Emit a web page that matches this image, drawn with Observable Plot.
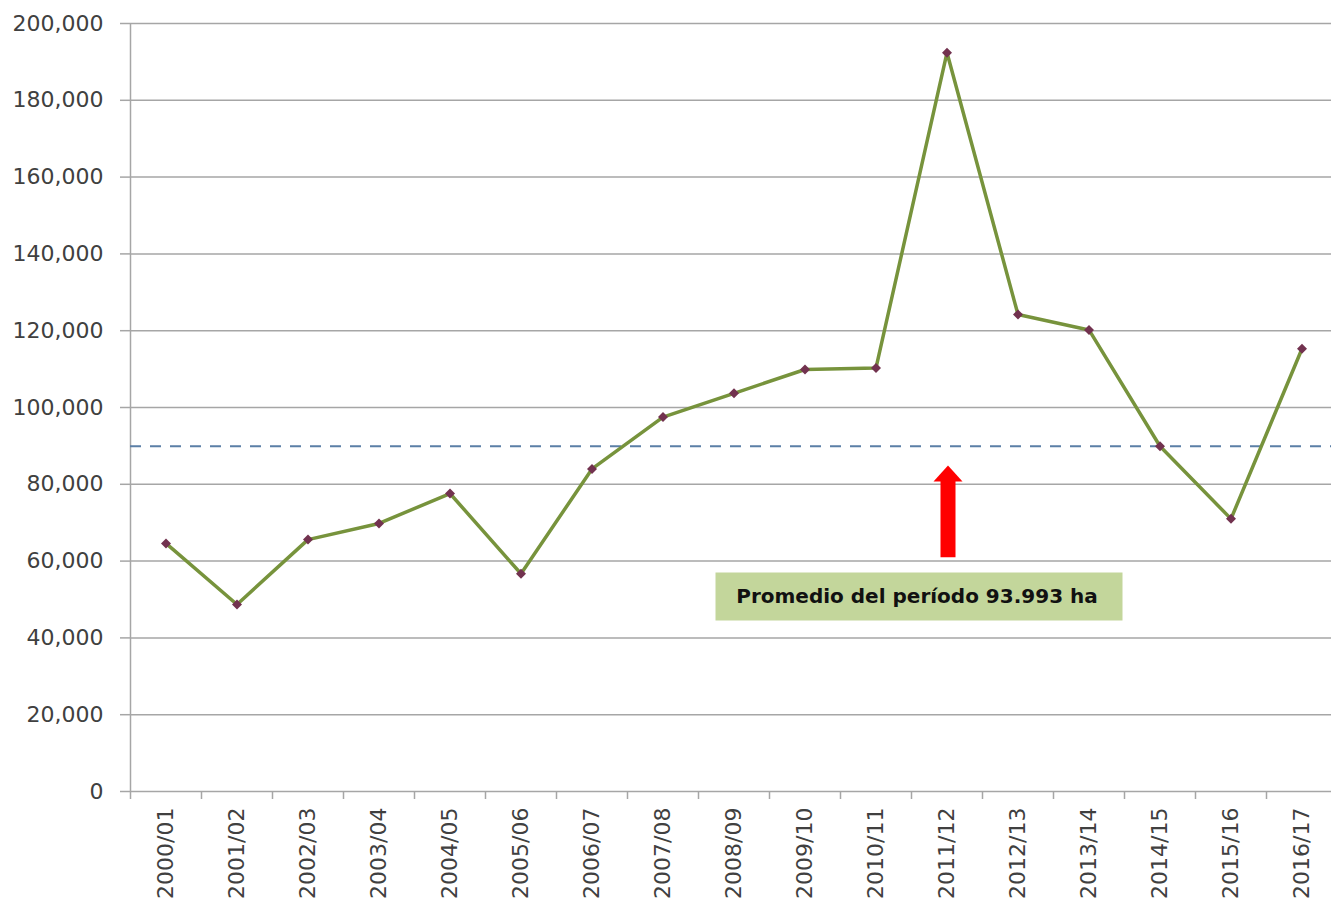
<!DOCTYPE html>
<html>
<head>
<meta charset="utf-8">
<script src="https://cdn.jsdelivr.net/npm/d3@7"></script>
<script src="https://cdn.jsdelivr.net/npm/@observablehq/plot@0.6"></script>
<style>
  html, body { margin: 0; padding: 0; background: #fff; overflow: hidden; }
</style>
</head>
<body>
<div id="chart"></div>
<script>
// ---- data ----
const seasons = ["2000/01","2001/02","2002/03","2003/04","2004/05","2005/06","2006/07","2007/08","2008/09",
                 "2009/10","2010/11","2011/12","2012/13","2013/14","2014/15","2015/16","2016/17"];
const values = [64600, 48700, 65600, 69800, 77600, 56700, 84000, 97500, 103700,
                109900, 110300, 192400, 124200, 120200, 89900, 71000, 115300];
const averageLine = 89900;
const yTicks = [0, 20000, 40000, 60000, 80000, 100000, 120000, 140000, 160000, 180000, 200000];
const annotationText = "Promedio del período 93.993 ha";
const annotationSeason = "2011/12";
const arrowFrom = 60900;   // shaft bottom (value units)
const arrowTo = 81000;     // shaft top
const arrowHeadAt = 82800; // head center
const labelAt = 50800;     // label box center

const data = seasons.map((s, i) => ({season: s, value: values[i]}));

// ---- layout ----
const width = 1331, height = 905;
const marginLeft = 130, marginRight = -6, marginTop = 23, marginBottom = 114;
const bw = (width - marginLeft - marginRight) / seasons.length;
const gridColor = "#a6a6a6";

const flatTriangle = {
  draw(ctx, size) {
    const r = Math.sqrt(size / Math.PI);
    ctx.moveTo(0, -r * 0.55);
    ctx.lineTo(r, r * 0.55);
    ctx.lineTo(-r, r * 0.55);
    ctx.closePath();
  }
};
const squareDiamond = {
  draw(ctx, size) {
    const r = Math.sqrt(size / Math.PI);
    ctx.moveTo(0, -r);
    ctx.lineTo(r, 0);
    ctx.lineTo(0, r);
    ctx.lineTo(-r, 0);
    ctx.closePath();
  }
};
const labelBox = {
  draw(ctx) { ctx.rect(-203.5, -24, 407, 48); }
};

const chart = Plot.plot({
  width, height, marginLeft, marginRight, marginTop, marginBottom,
  style: {fontFamily: "'DejaVu Sans', Verdana, sans-serif", fontSize: "22px", color: "#404040", background: "#fff", overflow: "visible"},
  x: {type: "band", domain: seasons, padding: 0},
  y: {domain: [0, 200000]},
  marks: [
    Plot.ruleY(yTicks, {stroke: gridColor, strokeWidth: 1.5}),
    Plot.ruleX([seasons[0]], {dx: -bw / 2, stroke: gridColor, strokeWidth: 1.5}),
    Plot.axisY({ticks: yTicks, tickFormat: d3.format(","), tickSize: 10, tickPadding: 17, stroke: gridColor, strokeWidth: 1.5, fill: "#404040", label: null}),
    Plot.axisX({tickSize: 8, tickFormat: () => "", dx: -bw / 2, stroke: gridColor, strokeWidth: 1.5, label: null}),
    Plot.axisX({tickSize: 0, tickPadding: 16, tickRotate: -90, fill: "#404040", label: null}),
    Plot.ruleY([averageLine], {stroke: "#5b7fa6", strokeWidth: 2, strokeDasharray: "11,9"}),
    Plot.line(data, {x: "season", y: "value", stroke: "#77933c", strokeWidth: 3.5}),
    Plot.dot(data, {x: "season", y: "value", symbol: squareDiamond, r: 5, fill: "#72324f", stroke: "none"}),
    Plot.ruleX([annotationSeason], {y1: arrowFrom, y2: arrowTo, stroke: "#ff0000", strokeWidth: 15, dx: 1}),
    Plot.dot([annotationSeason], {x: d => d, y: arrowHeadAt, symbol: flatTriangle, r: 14.5, fill: "#ff0000", stroke: "none", dx: 1}),
    Plot.dot([annotationSeason], {x: d => d, y: labelAt, symbol: labelBox, fill: "#c3d69b", stroke: "none", dx: -28}),
    Plot.text([annotationText], {x: () => annotationSeason, y: labelAt, text: d => d, dx: -30, fontSize: 20, fontWeight: "bold", fill: "#111"})
  ]
});
document.getElementById("chart").append(chart);
</script>
</body>
</html>
